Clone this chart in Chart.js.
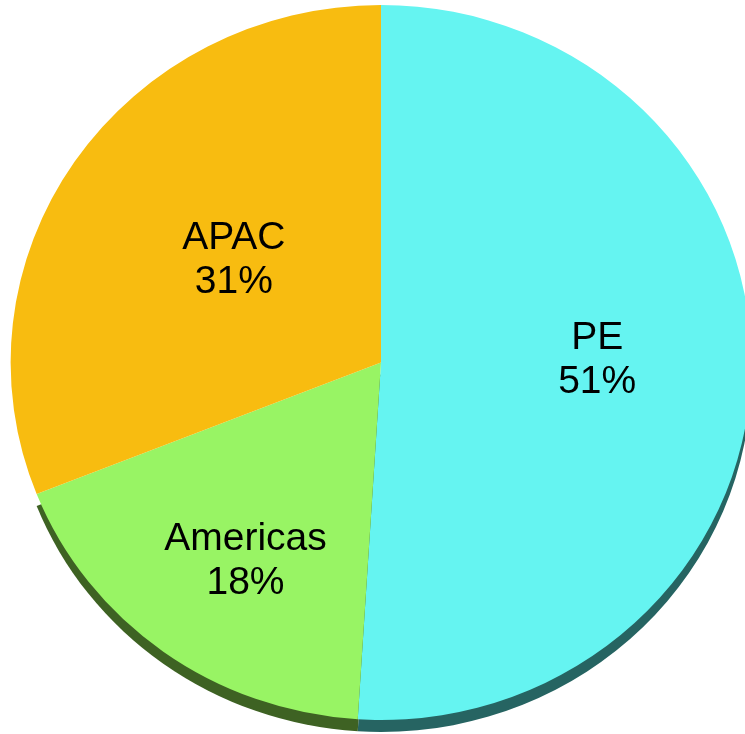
<!DOCTYPE html>
<html>
<head>
<meta charset="utf-8">
<script src="https://cdn.jsdelivr.net/npm/chart.js@4/dist/chart.umd.min.js"></script>
<style>
  html, body { margin: 0; padding: 0; background: #fff; }
  #wrap { width: 745px; height: 734px; }
</style>
</head>
<body>
<div id="wrap"><canvas id="pieChart"></canvas></div>
<script>
// dados do gráfico
const regioes = ['PE', 'Americas', 'APAC'];
const percentuais = [51, 18, 31];

const coresFace = ['#65F4F1', '#98F464', '#F8BC10'];
const coresBorda = ['#266462', '#3E6223', 'rgba(0,0,0,0)'];
const fatorRotulo = [0.584, 0.65, 0.5]; // distância do rótulo ao centro (fração do raio)
const ajusteX = [0, 6, 6];    // pequenos ajustes finos dos rótulos (px)
const ajusteY = [-9, 11, -2];

const escalaX = 1.036;   // pizza levemente achatada (perspectiva)
const profundidade = 12; // espessura da borda 3D

// plugin: achata a pizza, desenha a borda escura e os rótulos
const pizza3d = {
    id: 'pizza3d',
    beforeDatasetsDraw(chart) {
        const ctx = chart.ctx;
        const arcs = chart.getDatasetMeta(0).data;
        if (!arcs.length) return;
        const cx = arcs[0].x, cy = arcs[0].y;
        ctx.save();
        ctx.translate(cx, cy);
        ctx.scale(escalaX, 1);
        ctx.translate(-cx, -cy);
        // borda escura deslocada para baixo
        arcs.forEach((arc, i) => {
            ctx.beginPath();
            ctx.moveTo(arc.x, arc.y + profundidade);
            ctx.arc(arc.x, arc.y + profundidade, arc.outerRadius, arc.startAngle, arc.endAngle);
            ctx.closePath();
            ctx.fillStyle = coresBorda[i];
            ctx.fill();
        });
    },
    afterDatasetsDraw(chart) {
        const ctx = chart.ctx;
        ctx.restore();
        const arcs = chart.getDatasetMeta(0).data;
        ctx.save();
        ctx.fillStyle = '#000';
        ctx.font = '39px "Liberation Sans", Arial, sans-serif';
        ctx.textAlign = 'center';
        ctx.textBaseline = 'middle';
        arcs.forEach((arc, i) => {
            const meio = (arc.startAngle + arc.endAngle) / 2;
            const r = arc.outerRadius * fatorRotulo[i];
            const x = arc.x + Math.cos(meio) * r * escalaX + ajusteX[i];
            const y = arc.y + Math.sin(meio) * r + ajusteY[i];
            ctx.fillText(regioes[i], x, y - 22);
            ctx.fillText(percentuais[i] + '%', x, y + 22);
        });
        ctx.restore();
    }
};

document.addEventListener('DOMContentLoaded', function() {
    const el = document.getElementById('pieChart');
    new Chart(el, {
        type: 'pie',
        data: {
            labels: regioes,
            datasets: [{
                data: percentuais,
                backgroundColor: coresFace,
                borderWidth: 0
            }]
        },
        options: {
            responsive: true,
            maintainAspectRatio: false,
            animation: false,
            layout: { padding: { top: 5, bottom: 14, left: 17, right: 0 } },
            plugins: {
                legend: { display: false },
                tooltip: { enabled: false }
            }
        },
        plugins: [pizza3d]
    });
});
</script>
</body>
</html>
